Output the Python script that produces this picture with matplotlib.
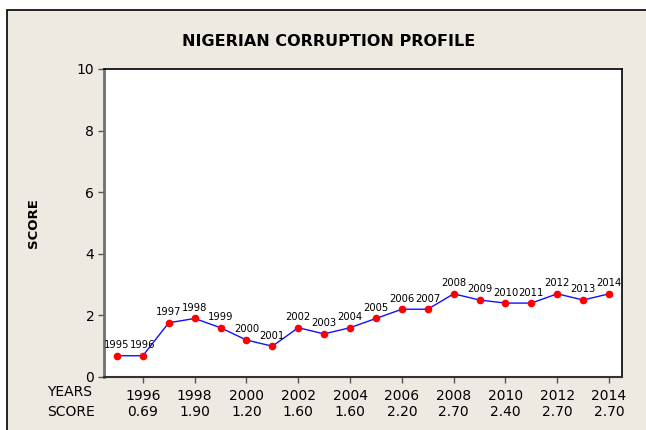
import matplotlib.pyplot as plt
import matplotlib.transforms as mtransforms
from matplotlib.patches import Rectangle

years = [1995, 1996, 1997, 1998, 1999, 2000, 2001, 2002, 2003, 2004,
         2005, 2006, 2007, 2008, 2009, 2010, 2011, 2012, 2013, 2014]
scores = [0.69, 0.69, 1.76, 1.90, 1.60, 1.20, 1.00, 1.60, 1.40, 1.60,
          1.90, 2.20, 2.20, 2.70, 2.50, 2.40, 2.40, 2.70, 2.50, 2.70]
tick_years = [1996, 1998, 2000, 2002, 2004, 2006, 2008, 2010, 2012, 2014]

W, H = 646, 430
fig = plt.figure(figsize=(W / 100, H / 100), dpi=100)
fig.patch.set_facecolor('white')
# gray panel with border
panel = Rectangle((7 / W, -0.1), 1.2, (H - 10) / H + 0.1,
                  transform=fig.transFigure, facecolor='#EEEAE1',
                  edgecolor='black', linewidth=1.2, zorder=-10)
fig.patches.append(panel)

# axes box: left 104, right 622, top 69, bottom 377 (pixels)
ax = fig.add_axes([104 / W, 1 - 377 / H, (622 - 104) / W, (377 - 69) / H])
ax.set_facecolor('white')

ax.plot(years, scores, color='#1010FF', linewidth=1, zorder=2)
ax.plot(years, scores, 'o', color='#FF0000', markersize=4.5, zorder=3)

for yr, sc in zip(years, scores):
    ax.annotate(str(yr), (yr, sc), xytext=(0, 4), textcoords='offset points',
                ha='center', va='bottom', fontsize=7.2, color='black')

ax.set_xlim(1994.5, 2014.5)
ax.set_ylim(0, 10)
ax.set_yticks([0, 2, 4, 6, 8, 10])
ax.set_xticks(tick_years)
ax.set_xticklabels([str(y) for y in tick_years])
ax.tick_params(axis='both', direction='out', length=4, width=1,
               color='#555555', labelsize=10, pad=3)
ax.tick_params(axis='x', pad=5)

for s in ['top', 'right']:
    ax.spines[s].set_color('black')
    ax.spines[s].set_linewidth(1.2)
ax.spines['left'].set_color('#707070')
ax.spines['left'].set_linewidth(2)
ax.spines['bottom'].set_color('#333333')
ax.spines['bottom'].set_linewidth(1.5)

# score row under the year ticks
trans = mtransforms.blended_transform_factory(ax.transData, fig.transFigure)
for yr in tick_years:
    sc = scores[years.index(yr)]
    ax.text(yr, 1 - 412 / H, f'{sc:.2f}', transform=trans, ha='center',
            va='center', fontsize=10, clip_on=False)

fig.text(47 / W, 1 - 392 / H, 'YEARS', ha='left', va='center', fontsize=10)
fig.text(47 / W, 1 - 412 / H, 'SCORE', ha='left', va='center', fontsize=10)

fig.text(329 / W, 1 - 42 / H, 'NIGERIAN CORRUPTION PROFILE', ha='center',
         va='center', fontsize=11.5, fontweight='bold')
fig.text(33 / W, 1 - 223 / H, 'SCORE', ha='center', va='center',
         rotation=90, fontsize=9.5, fontweight='bold')

fig.savefig('out.png', dpi=100, facecolor=fig.get_facecolor())
